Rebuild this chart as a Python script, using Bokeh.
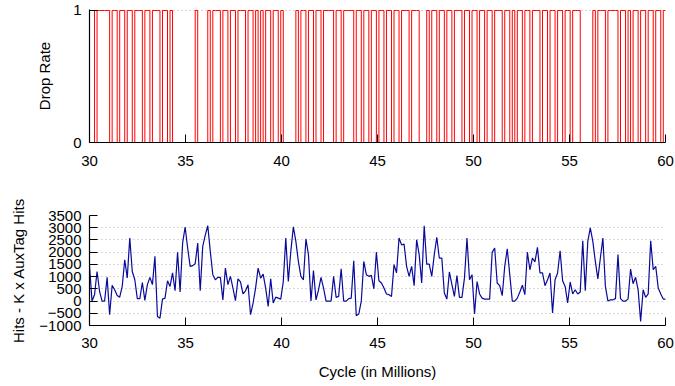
from bokeh.plotting import figure
from bokeh.layouts import column
from bokeh.models import Range1d, FixedTicker
from bokeh.embed import file_html
from bokeh.resources import INLINE

# ---- data ----
x_start = 30.0
x_step = 0.131072  # millions of cycles per sample

drop_rate = [int(c) for c in (
    "1101111101" "1011011011" "1011011101" "1010000000" "0010000101"
    "1101101101" "1101101010" "1101101000" "0010110110" "1101111011"
    "0111101101" "1011011011" "0110111011" "1000101101" "1011011101"
    "1011011011" "0111011010" "1101101110" "1101101101" "1011100000"
    "1011101111" "0110101101" "1011011011"
)]

hits_diff = [
    1450, 0, 260, 1210, 400, 0, 0, 970, -560, 640,
    460, 230, 160, 600, 1690, 940, 2580, 1210, 870, 100,
    100, 760, 30, 670, 970, 670, 1830, -630, -700, 80,
    120, 830, 600, 1150, 420, 2000, 370, 2370, 3030, 2170,
    1420, 1450, 1530, 2370, 420, 2240, 2700, 3080, 2030, 1080,
    870, 970, 970, 50, 1350, 670, 1010, 530, 20, 910,
    780, 290, 420, 670, -560, -80, 530, 1350, 940, 1100,
    530, -220, 910, -80, 160, 120, 80, 800, 2580, 800,
    2030, 3040, 2440, 1620, 1010, 870, 2540, 1900, 0, 1250,
    50, 460, 970, 530, 0, 0, 0, 1010, 150, 190,
    1320, 0, 0, 100, 120, 1650, -600, -530, 0, 1620,
    1080, 1010, 1050, 500, 2000, 830, 740, 530, 290, 260,
    190, 1490, 1150, 2580, 2300, 2330, 1420, 1010, 1420, 630,
    2510, 1900, 740, 3080, 1510, 1510, 1010, 1900, 2610, 1760,
    1760, 330, 80, 1190, 670, 190, 1040, 150, 150, 940,
    2580, 870, 1080, -530, 800, 290, 120, 80, 80, 80,
    1990, 2170, 740, 630, 220, 1420, 2140, 1080, 0, 0,
    120, 370, 650, 260, 2000, 1280, 1760, 1600, 2200, 1150,
    1150, 630, 870, 1150, -490, 870, 1150, 2060, 830, 600,
    -80, 780, 290, 460, 290, 370, 2470, 420, 2440, 2990,
    2440, 1620, 910, 1760, 2580, 600, 0, 50, 50, 100,
    1900, 100, 0, 0, 80, 1310, 710, 970, 460, -830,
    460, 150, 290, 2470, 1280, 1420, 530, 290, 80, 80,
]

x_ticks = [30, 35, 40, 45, 50, 55, 60]
drop_ticks = [0, 1]
hits_ticks = [-1000, -500, 0, 500, 1000, 1500, 2000, 2500, 3000, 3500]

x_drop = [x_start + i * x_step for i in range(len(drop_rate))]
x_hits = [x_start + i * x_step for i in range(len(hits_diff))]

FONT = "Liberation Sans"
FS = "15px"


def style(p, yticks):
    p.xaxis.ticker = FixedTicker(ticks=x_ticks)
    p.yaxis.ticker = FixedTicker(ticks=yticks)
    for ax in (p.xaxis[0], p.yaxis[0]):
        ax.major_tick_in = 8
        ax.major_tick_out = 0
        ax.minor_tick_in = 0
        ax.minor_tick_out = 0
        ax.axis_line_color = "black"
        ax.axis_line_width = 1.2
        ax.major_tick_line_color = "black"
        ax.major_label_text_font = FONT
        ax.major_label_text_font_size = FS
        ax.major_label_text_color = "black"
        ax.axis_label_text_font = FONT
        ax.axis_label_text_font_size = FS
        ax.axis_label_text_font_style = "normal"
        ax.axis_label_text_color = "black"
    p.xgrid.visible = False
    p.ygrid.grid_line_color = "#b0b0b0"
    p.ygrid.grid_line_dash = "1 3"
    p.ygrid.grid_line_width = 1
    p.outline_line_color = None
    p.background_fill_color = "white"
    p.border_fill_color = "white"


p1 = figure(width=675, height=178, output_backend="svg", toolbar_location=None,
            x_range=Range1d(30, 60), y_range=Range1d(0, 1.0075),
            min_border_left=89, min_border_right=10, min_border_top=9, min_border_bottom=36)
style(p1, drop_ticks)
p1.yaxis.axis_label = "Drop Rate"
p1.yaxis.major_label_standoff = 8
p1.yaxis.axis_label_standoff = 17
p1.xaxis.major_label_standoff = 13
p1.step(x_drop, drop_rate, mode="after", line_color="#ff0000", line_width=1)

p2 = figure(width=675, height=208, output_backend="svg", toolbar_location=None,
            x_range=Range1d(30, 60), y_range=Range1d(-1000, 3500),
            min_border_left=89, min_border_right=10, min_border_top=37, min_border_bottom=61)
style(p2, hits_ticks)
p2.yaxis.axis_label = "Hits - K x AuxTag Hits"
p2.yaxis.major_label_standoff = 8
p2.yaxis.axis_label_standoff = 9
p2.xaxis.axis_label = "Cycle (in Millions)"
p2.xaxis.major_label_standoff = 12
p2.xaxis.axis_label_standoff = 12
p2.line(x_hits, hits_diff, line_color="#0a0a9a", line_width=1.2)

layout = column(p1, p2, spacing=0)
open("out.html", "w").write(file_html(layout, INLINE))
